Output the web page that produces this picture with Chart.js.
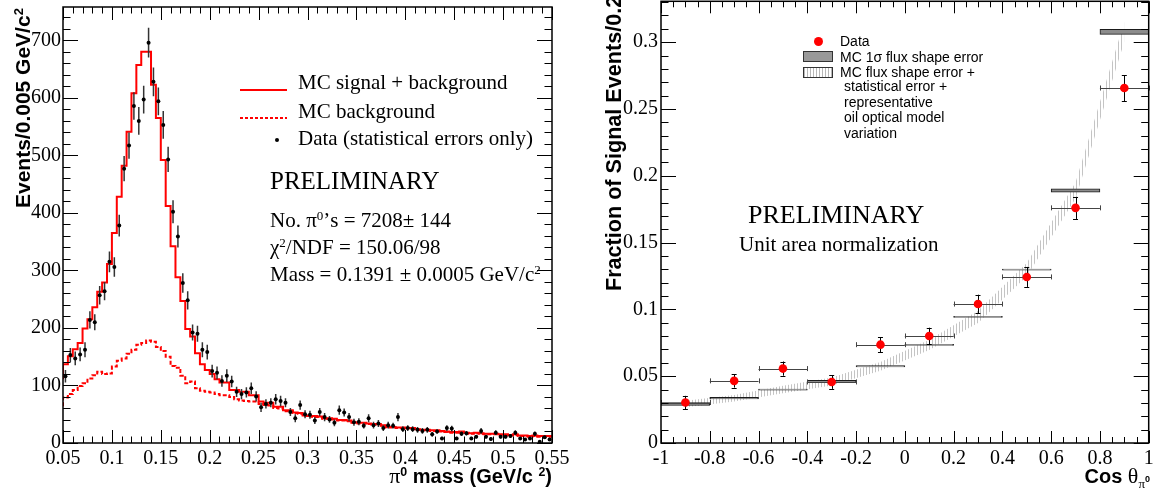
<!DOCTYPE html>
<html>
<head>
<meta charset="utf-8">
<script src="https://cdn.jsdelivr.net/npm/chart.js@4.4.1/dist/chart.umd.min.js"></script>
<style>
  body { margin: 0; width: 1153px; height: 499px; background: #fff; position: relative; overflow: hidden; }
  canvas { position: absolute; top: 0; }
  #massChart { left: 0; }
  #cosChart { left: 575px; top: -3px; }
  .txt { position: absolute; white-space: nowrap; line-height: 1; color: #000; }
  .serif { font-family: "Liberation Serif", "Times New Roman", serif; }
  .sans { font-family: "Liberation Sans", Arial, sans-serif; }
  .bold { font-weight: bold; }
  .txt sup { font-size: 0.62em; position: relative; top: -0.55em; vertical-align: baseline; line-height: 0; }
  .vtitle { transform-origin: 0 0; transform: rotate(-90deg); }
  .mark { position: absolute; }
</style>
</head>
<body>
<canvas id="massChart" width="575" height="499"></canvas>
<canvas id="cosChart" width="578" height="502"></canvas>

<!-- left panel texts -->
<div class="txt sans bold vtitle" style="left:12px; top:208px; font-size:21px;">Events/0.005 GeV/c<sup>2</sup></div>
<div class="txt sans bold" style="right:601px; top:465px; font-size:20px;"><span class="serif" style="font-weight:normal; font-size:22px;">π</span><sup>0</sup> mass (GeV/c <sup>2</sup>)</div>

<div class="mark" style="left:240px; top:89px; width:47px; height:2px; background:#ff0000;"></div>
<div class="txt serif" style="left:298px; top:71.7px; font-size:21px;">MC signal + background</div>
<div class="mark" style="left:240px; top:117px; width:47px; height:2px; background:repeating-linear-gradient(90deg, #ff0000 0 3px, transparent 3px 5px);"></div>
<div class="txt serif" style="left:298px; top:100.7px; font-size:21px;">MC background</div>
<div class="mark" style="left:275px; top:138px; width:4px; height:4px; border-radius:50%; background:#000;"></div>
<div class="txt serif" style="left:298px; top:127.6px; font-size:21px;">Data (statistical errors only)</div>

<div class="txt serif" style="left:270px; top:168.4px; font-size:25px;">PRELIMINARY</div>
<div class="txt serif" style="left:270px; top:209.7px; font-size:21px;">No. π<sup>0</sup>’s = 7208± 144</div>
<div class="txt serif" style="left:270px; top:237.4px; font-size:21px;">χ<sup>2</sup>/NDF = 150.06/98</div>
<div class="txt serif" style="left:270px; top:264px; font-size:21px;">Mass = 0.1391 ± 0.0005 GeV/c<sup>2</sup></div>

<!-- right panel texts -->
<div class="txt sans bold vtitle" style="left:602.5px; top:291px; font-size:21.6px;">Fraction of Signal Events/0.2</div>
<div class="txt sans bold" style="right:3px; top:464.8px; font-size:20px;">Cos <span class="serif" style="font-weight:normal; font-size:22px;">θ</span><span style="font-size:11px; position:relative; top:5px;"><span class="serif" style="font-weight:normal; font-size:13px;">π</span><span style="position:relative; top:-6px; font-size:9px;">0</span></span></div>

<div class="mark" style="left:814px; top:37px; width:9px; height:9px; border-radius:50%; background:#ff0000;"></div>
<div class="txt sans" style="left:840px; top:34.2px; font-size:14px;">Data</div>
<div class="mark" style="left:803px; top:51px; width:30px; height:11px; box-sizing:border-box; border:1px solid #333; background:#999;"></div>
<div class="txt sans" style="left:840px; top:49.7px; font-size:14px;">MC 1σ flux shape error</div>
<div class="mark" style="left:803px; top:67px; width:30px; height:11px; box-sizing:border-box; border:1px solid #333; background:repeating-linear-gradient(90deg, #b8b8b8 0 1px, #fff 1px 3px);"></div>
<div class="txt sans" style="left:840px; top:64.7px; font-size:14px;">MC flux shape error +</div>
<div class="txt sans" style="left:844px; top:79.2px; font-size:14px;">statistical error +</div>
<div class="txt sans" style="left:844px; top:94.7px; font-size:14px;">representative</div>
<div class="txt sans" style="left:844px; top:110px; font-size:14px;">oil optical model</div>
<div class="txt sans" style="left:844px; top:125.7px; font-size:14px;">variation</div>

<div class="txt serif" style="left:748px; top:202.2px; font-size:26px;">PRELIMINARY</div>
<div class="txt serif" style="left:739px; top:234.4px; font-size:21px;">Unit area normalization</div>

<script>
// ---- left panel: pi0 mass histogram, 100 bins of 0.005 GeV/c^2 ----
const massMin = 0.05;
const massMax = 0.55;
const massBinWidth = 0.005;

const dataCounts = [
  116, 153, 147, 154, 162, 214, 210, 257, 264, 315,
  306, 378, 477, 517, 586, 560, 597, 696, 628, 594,
  553, 493, 402, 359, 278, 248, 192, 190, 162, 158,
  125, 122, 108, 117, 107, 89, 85, 88, 95, 81,
  62, 68, 70, 76, 73, 70, 54, 43, 66, 50,
  49, 39, 54, 45, 41, 35, 57, 53, 45, 36,
  37, 30, 43, 31, 34, 26, 31, 30, 45, 24,
  26, 24, 23, 21, 23, 15, 20, 8, 26, 25,
  8, 16, 17, 8, 11, 21, 11, 7, 18, 11,
  11, 12, 18, 8, 6, 8, 16, 2, 10, 6
];
const dataErrors = [
  11, 12, 12, 12, 13, 15, 14, 16, 16, 18,
  17, 19, 22, 23, 24, 24, 24, 26, 25, 24,
  24, 22, 20, 19, 17, 16, 14, 14, 13, 13,
  11, 11, 10, 11, 10, 9, 9, 9, 10, 9,
  8, 8, 8, 9, 9, 8, 7, 7, 8, 7,
  7, 6, 7, 7, 6, 6, 8, 7, 7, 6,
  6, 5, 7, 6, 6, 5, 6, 5, 7, 5,
  5, 5, 5, 5, 5, 4, 4, 3, 5, 5,
  3, 4, 4, 3, 3, 5, 3, 3, 4, 3,
  3, 3, 4, 3, 2, 3, 4, 1, 3, 2
];
const mcTotal = [
  111, 137, 151, 163, 174, 199, 215, 236, 263, 279,
  311, 365, 428, 482, 541, 608, 657, 680, 680, 623,
  565, 492, 412, 342, 288, 247, 198, 185, 156, 137,
  127, 120, 111, 105, 105, 92, 92, 89, 89, 83,
  83, 72, 70, 70, 63, 63, 57, 57, 53, 52,
  48, 47, 47, 46, 43, 43, 42, 40, 40, 39,
  36, 35, 35, 34, 33, 33, 31, 28, 28, 27,
  27, 26, 26, 24, 23, 23, 22, 22, 21, 20,
  19, 19, 20, 18, 17, 18, 17, 16, 16, 16,
  15, 15, 14, 15, 13, 13, 12, 13, 12, 12
];
const mcBackground = [
  64, 79, 85, 92, 99, 104, 112, 118, 124, 120,
  121, 133, 143, 147, 155, 162, 171, 174, 178, 176,
  167, 160, 150, 134, 131, 117, 104, 107, 95, 91,
  89, 88, 85, 83, 83, 80, 76, 74, 73, 72,
  72, 68, 66, 65, 61, 60, 55, 55, 52, 51,
  47, 46, 45, 45, 42, 42, 41, 39, 39, 38,
  35, 34, 34, 33, 32, 32, 30, 27, 27, 26,
  26, 25, 25, 23, 22, 22, 21, 21, 20, 19,
  18, 18, 19, 17, 16, 17, 16, 15, 15, 15,
  14, 14, 13, 14, 12, 12, 11, 12, 11, 11
];

// ---- right panel: cos theta distribution, 10 bins of 0.2 ----
const cosCenters = [-0.9, -0.7, -0.5, -0.3, -0.1, 0.1, 0.3, 0.5, 0.7, 0.9];
const cosHalfWidth = 0.1;
const dataFraction = [0.0303, 0.0465, 0.0557, 0.0457, 0.0736, 0.0801, 0.1040, 0.1243, 0.1760, 0.2657];
const dataFractionErr = [0.0050, 0.0050, 0.0053, 0.0052, 0.0056, 0.0062, 0.0070, 0.0075, 0.0083, 0.0097];
const mcFraction = [0.0292, 0.0335, 0.0400, 0.0461, 0.0574, 0.0734, 0.0944, 0.1298, 0.1890, 0.3078];
const mcFluxErr = [0.0011, 0.0006, 0.0004, 0.0009, 0.0005, 0.0004, 0.0005, 0.0004, 0.0013, 0.0019];
const mcTotalErr = [0.0025, 0.0025, 0.0028, 0.0030, 0.0033, 0.0038, 0.0045, 0.0050, 0.0060, 0.0075];

const tickFont = { family: '"Liberation Serif", "Times New Roman", serif', size: 20 };

const binEdges = dataCounts.map((_, i) => massMin + i * massBinWidth);
const binCenters = binEdges.map((e) => e + massBinWidth / 2);

function stepPoints(values) {
  const pts = values.map((v, i) => ({ x: binEdges[i], y: v }));
  pts.push({ x: massMax, y: values[values.length - 1] });
  return pts;
}

function px(v) {
  return Math.round(v) + 0.5;
}

// root style frame: box + inward ticks on all four sides
function framePlugin(f) {
  return {
    id: "rootFrame",
    afterDatasetsDraw(chart) {
      const { ctx, chartArea: a } = chart;
      const x = chart.scales.x;
      const y = chart.scales.y;
      ctx.save();
      ctx.strokeStyle = "#000";
      ctx.lineWidth = 1;
      ctx.beginPath();
      for (let i = 0; i <= f.xCount; i++) {
        const p = px(x.getPixelForValue(f.xStart + i * f.xStep));
        const len = i % f.xEvery === 0 ? f.xMajor : f.xMinor;
        ctx.moveTo(p, a.bottom);
        ctx.lineTo(p, a.bottom - len);
        ctx.moveTo(p, a.top);
        ctx.lineTo(p, a.top + len);
      }
      for (let i = 0; i <= f.yCount; i++) {
        const p = px(y.getPixelForValue(f.yStart + i * f.yStep));
        const len = i % f.yEvery === 0 ? f.yMajor : f.yMinor;
        ctx.moveTo(a.left, p);
        ctx.lineTo(a.left + len, p);
        ctx.moveTo(a.right, p);
        ctx.lineTo(a.right - len, p);
      }
      ctx.stroke();
      ctx.lineWidth = 1.5;
      ctx.strokeRect(a.left, a.top, a.right - a.left, a.bottom - a.top);
      ctx.restore();
    },
  };
}

const massErrorBars = {
  id: "massErrorBars",
  beforeDatasetDraw(chart, args) {
    if (args.index !== 0) return;
    const { ctx, chartArea: a } = chart;
    const x = chart.scales.x;
    const y = chart.scales.y;
    ctx.save();
    ctx.beginPath();
    ctx.rect(a.left, a.top, a.right - a.left, a.bottom - a.top);
    ctx.clip();
    ctx.strokeStyle = "#333";
    ctx.lineWidth = 1.5;
    ctx.beginPath();
    binCenters.forEach((c, i) => {
      const p = x.getPixelForValue(c);
      ctx.moveTo(p, y.getPixelForValue(dataCounts[i] - dataErrors[i]));
      ctx.lineTo(p, y.getPixelForValue(dataCounts[i] + dataErrors[i]));
    });
    ctx.stroke();
    ctx.restore();
  },
};

const cosErrorBars = {
  id: "cosErrorBars",
  beforeDatasetDraw(chart, args) {
    if (args.index !== 0) return;
    const { ctx } = chart;
    const x = chart.scales.x;
    const y = chart.scales.y;
    ctx.save();
    ctx.lineWidth = 1;
    cosCenters.forEach((c, i) => {
      const pc = y.getPixelForValue(dataFraction[i]);
      const x0 = x.getPixelForValue(c - cosHalfWidth);
      const x1 = x.getPixelForValue(c + cosHalfWidth);
      const xc = x.getPixelForValue(c);
      const yl = y.getPixelForValue(dataFraction[i] - dataFractionErr[i]);
      const yh = y.getPixelForValue(dataFraction[i] + dataFractionErr[i]);
      ctx.strokeStyle = "#444";
      ctx.beginPath();
      ctx.moveTo(x0, px(pc));
      ctx.lineTo(x1, px(pc));
      ctx.moveTo(px(x0), pc - 2.5);
      ctx.lineTo(px(x0), pc + 2.5);
      ctx.moveTo(px(x1), pc - 2.5);
      ctx.lineTo(px(x1), pc + 2.5);
      ctx.stroke();
      ctx.strokeStyle = "#000";
      ctx.beginPath();
      ctx.moveTo(px(xc), yl);
      ctx.lineTo(px(xc), yh);
      ctx.moveTo(xc - 2.5, px(yl));
      ctx.lineTo(xc + 2.5, px(yl));
      ctx.moveTo(xc - 2.5, px(yh));
      ctx.lineTo(xc + 2.5, px(yh));
      ctx.stroke();
    });
    ctx.restore();
  },
};

// fixed axis size, and no extra room asked for half tick labels
function fixSize(dim, value) {
  return (s) => {
    s[dim] = value;
    s.paddingTop = 0;
    s.paddingBottom = 0;
    s.paddingLeft = 0;
    s.paddingRight = 0;
  };
}

function axisOptions(min, max, step, pad, fmt, fit) {
  return {
    type: "linear",
    min: min,
    max: max,
    offset: false,
    grid: { display: false, drawTicks: false, offset: false },
    border: { display: false },
    ticks: {
      stepSize: step,
      includeBounds: false,
      autoSkip: false,
      maxRotation: 0,
      padding: pad,
      color: "#000",
      font: tickFont,
      callback: fmt,
    },
    afterFit: fit,
  };
}

const fmt = (v) => String(+Number(v).toFixed(3));

new Chart(document.getElementById("massChart"), {
  type: "scatter",
  data: {
    datasets: [
      {
        label: "Data (statistical errors only)",
        data: binCenters.map((c, i) => ({ x: c, y: dataCounts[i] })),
        pointRadius: 2,
        pointBackgroundColor: "#000",
        pointBorderWidth: 0,
        showLine: false,
      },
      {
        type: "line",
        label: "MC signal + background",
        data: stepPoints(mcTotal),
        stepped: "after",
        borderColor: "#ff0000",
        borderWidth: 2,
        pointRadius: 0,
        fill: false,
      },
      {
        type: "line",
        label: "MC background",
        data: stepPoints(mcBackground),
        stepped: "after",
        borderColor: "#ff0000",
        borderWidth: 2,
        borderDash: [4, 2],
        pointRadius: 0,
        fill: false,
      },
    ],
  },
  options: {
    responsive: false,
    animation: false,
    devicePixelRatio: 1,
    layout: { padding: { left: 0, right: 23, top: 7, bottom: 0 } },
    plugins: { legend: { display: false }, tooltip: { enabled: false } },
    scales: {
      x: axisOptions(massMin, massMax, 0.05, 4, fmt, fixSize("height", 56)),
      y: axisOptions(0, 758, 100, 2, fmt, fixSize("width", 63)),
    },
  },
  plugins: [
    massErrorBars,
    framePlugin({
      xStart: 0.05, xStep: 0.01, xCount: 50, xEvery: 5, xMajor: 13, xMinor: 6.5,
      yStart: 0, yStep: 20, yCount: 37, yEvery: 5, yMajor: 15, yMinor: 7.5,
    }),
  ],
});

// hatch pattern for the wider MC error band
const cosCanvas = document.getElementById("cosChart");
const hatchTile = document.createElement("canvas");
hatchTile.width = 3;
hatchTile.height = 4;
const htx = hatchTile.getContext("2d");
htx.fillStyle = "#c4c4c4";
htx.fillRect(0, 0, 1, 4);
const hatch = cosCanvas.getContext("2d").createPattern(hatchTile, "repeat");

new Chart(cosCanvas, {
  type: "scatter",
  data: {
    datasets: [
      {
        label: "Data",
        data: cosCenters.map((c, i) => ({ x: c, y: dataFraction[i] })),
        pointRadius: 4.3,
        pointBackgroundColor: "#ff0000",
        pointBorderWidth: 0,
        showLine: false,
      },
      {
        type: "bar",
        label: "MC 1σ flux shape error",
        data: cosCenters.map((c, i) => ({ x: c, y: [mcFraction[i] - mcFluxErr[i], mcFraction[i] + mcFluxErr[i]] })),
        backgroundColor: "#8c8c8c",
        borderColor: "#1a1a1a",
        borderWidth: 1,
        borderSkipped: false,
        barPercentage: 1,
        categoryPercentage: 1,
      },
      {
        type: "line",
        label: "band low",
        data: cosCenters.map((c, i) => ({ x: c, y: mcFraction[i] - mcTotalErr[i] })),
        borderWidth: 0,
        pointRadius: 0,
        fill: false,
      },
      {
        type: "line",
        label: "MC flux shape error + statistical error + representative oil optical model variation",
        data: cosCenters.map((c, i) => ({ x: c, y: mcFraction[i] + mcTotalErr[i] })),
        borderWidth: 0,
        pointRadius: 0,
        fill: "-1",
        backgroundColor: hatch,
      },
    ],
  },
  options: {
    responsive: false,
    animation: false,
    devicePixelRatio: 1,
    layout: { padding: { left: 0, right: 4, top: 0, bottom: 0 } },
    plugins: { legend: { display: false }, tooltip: { enabled: false } },
    scales: {
      x: axisOptions(-1, 1, 0.2, 4, fmt, fixSize("height", 56)),
      y: axisOptions(0, 0.3306, 0.05, 3, fmt, fixSize("width", 86)),
    },
  },
  plugins: [
    cosErrorBars,
    framePlugin({
      xStart: -1, xStep: 0.05, xCount: 40, xEvery: 4, xMajor: 12, xMinor: 6,
      yStart: 0, yStep: 0.01, yCount: 33, yEvery: 5, yMajor: 15, yMinor: 7.5,
    }),
  ],
});
</script>
</body>
</html>
